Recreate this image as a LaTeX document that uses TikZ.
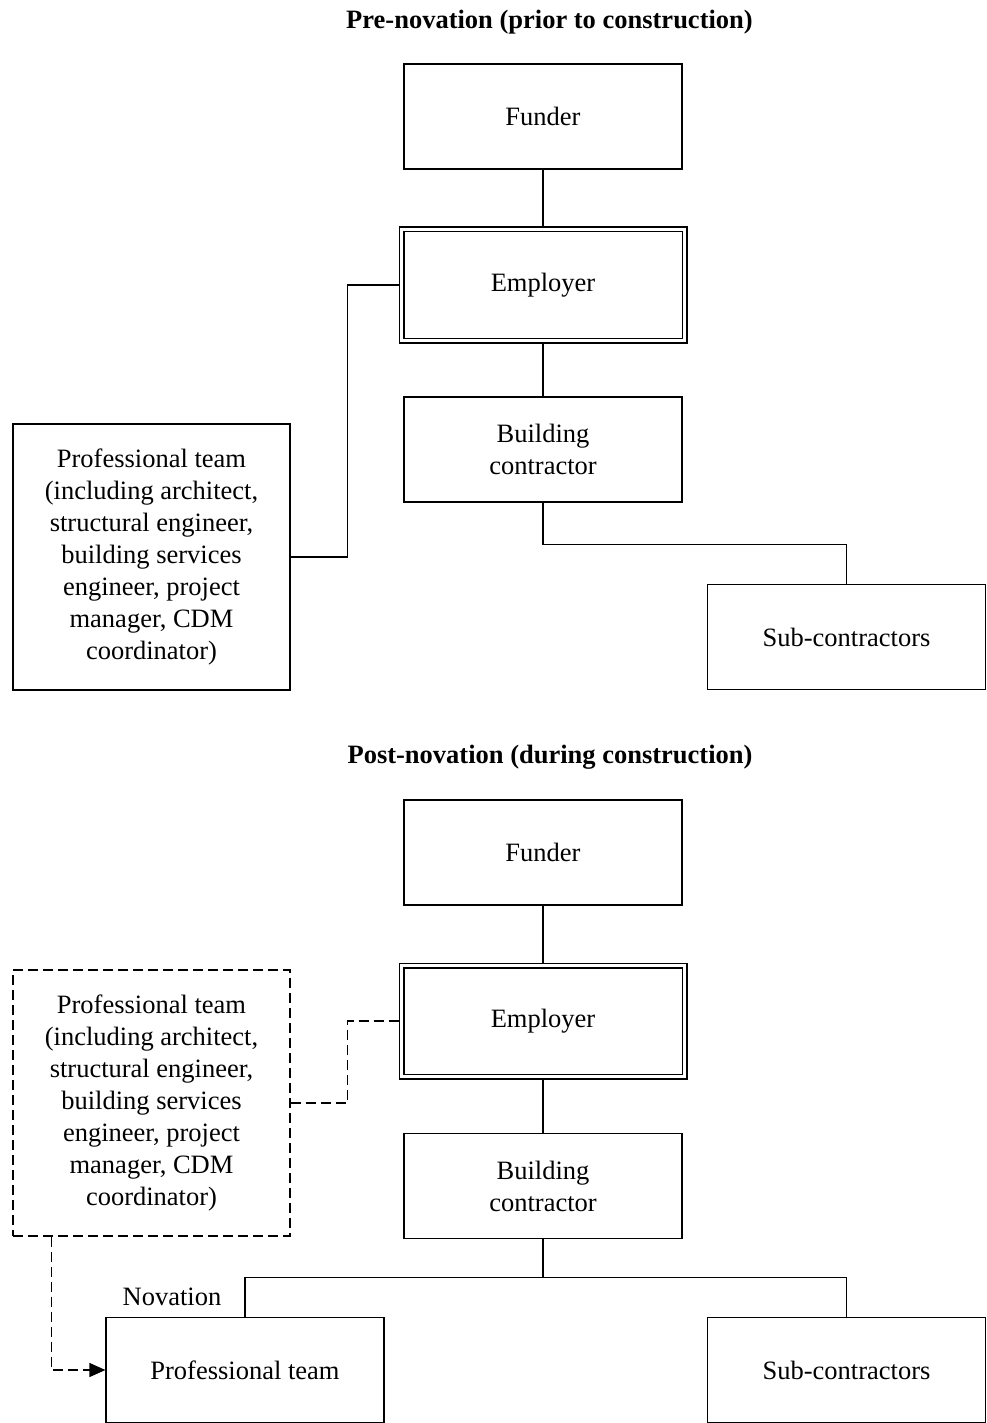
\documentclass[tikz,border=0pt]{standalone}
\usepackage{fontspec}
\setmainfont{Liberation Serif}
\usetikzlibrary{arrows.meta}
\begin{document}
\begin{tikzpicture}[x=1pt,y=-1pt,
 box/.style={draw, line width=1.2pt, minimum width=278pt, minimum height=105pt, inner sep=0pt, align=center, font=\fontsize{26.5}{32}\selectfont},
 dbl/.style={box, double, double distance=3.6pt, minimum width=283pt, minimum height=111pt, outer sep=3pt},
 conn/.style={line width=1.2pt},
 dsh/.style={line width=1.2pt, dash pattern=on 10pt off 5pt},
 ttl/.style={font=\bfseries\fontsize{26.5}{32}\selectfont}]
\useasboundingbox (0,0) rectangle (986,1423);
\clip (0,0) rectangle (986,1423);
% pre-novation
\node[ttl] (t1) at (549.5,22) {Pre-novation (prior to construction)};
\node[box] (f1) at (543,116.5) {Funder};
\node[dbl] (e1) at (543,285) {Employer};
\node[box] (b1) at (543,449.5) {Building\\contractor};
\node[box, minimum width=277pt, minimum height=266pt] (p1) at (151.5,557) {Professional team\\(including architect,\\structural engineer,\\building services\\engineer, project\\manager, CDM\\coordinator)};
\node[box] (s1) at (846.5,637) {Sub-contractors};
\draw[conn] (f1) -- (e1);
\draw[conn] (e1) -- (b1);
\draw[conn] (b1.south) -- ++(0,42) -| (s1.north);
\draw[conn] (p1.east) -- ++(57,0) |- (e1.west);
% post-novation
\node[ttl] (t2) at (550,757) {Post-novation (during construction)};
\node[box] (f2) at (543,852.5) {Funder};
\node[dbl] (e2) at (543,1021) {Employer};
\node[box] (b2) at (543,1186) {Building\\contractor};
\node[box, dsh, minimum width=277pt, minimum height=266pt] (p2) at (151.5,1103) {Professional team\\(including architect,\\structural engineer,\\building services\\engineer, project\\manager, CDM\\coordinator)};
\node[box] (pt) at (245,1370) {Professional team};
\node[box] (s2) at (846.5,1370) {Sub-contractors};
\node[font=\fontsize{26.5}{32}\selectfont] (nov) at (172,1297) {Novation};
\draw[conn] (f2) -- (e2);
\draw[conn] (e2) -- (b2);
\draw[conn] (b2.south) -- ++(0,38) coordinate (bus);
\draw[conn] (pt.north) |- (bus) -| (s2.north);
\draw[dsh] (p2.east) -- ++(57,0) |- (e2.west);
\draw[dsh, -{Triangle[length=16pt,width=14pt]}] ([xshift=39pt]p2.south west) |- (pt.west);
\end{tikzpicture}
\end{document}
